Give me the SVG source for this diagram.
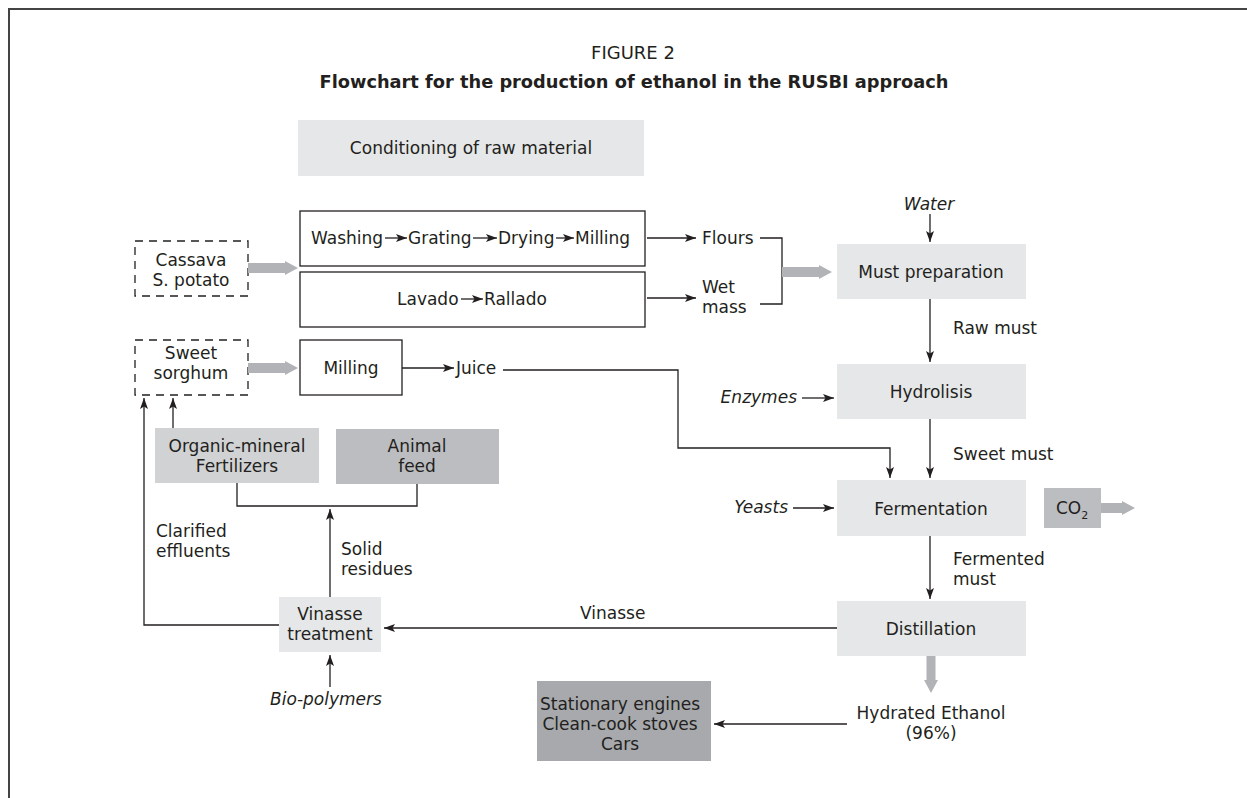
<svg xmlns="http://www.w3.org/2000/svg" width="1247" height="798" viewBox="0 0 1247 798">
<defs>
<style>
text{font-family:"DejaVu Sans","Open Sans",sans-serif;font-size:17px;fill:#231f20}
.c{text-anchor:middle}
.i{font-style:italic}
.b{font-weight:bold}
.ln{fill:none;stroke:#231f20;stroke-width:1.3}
.ar{fill:none;stroke:#231f20;stroke-width:1.3;marker-end:url(#ah)}
.dash{fill:#fff;stroke:#231f20;stroke-width:1.3;stroke-dasharray:8,6}
.box{fill:#fff;stroke:#231f20;stroke-width:1.3}
.l1{fill:#e6e7e8}
.l2{fill:#d1d2d4}
.l3{fill:#bcbdc0}
.l4{fill:#a7a9ac}
.ga{fill:#b1b3b6}
</style>
<marker id="ah" markerUnits="userSpaceOnUse" markerWidth="12" markerHeight="10" refX="11" refY="4" orient="auto">
<path d="M0,0 L11,4 L0,8 L2.5,4 Z" fill="#231f20"/>
</marker>
</defs>
<rect width="1247" height="798" fill="#fff"/>
<path d="M9,798 V9 H1247" fill="none" stroke="#444" stroke-width="2"/>
<g id="title">
<text class="c" x="633" y="59" style="font-size:18px">FIGURE 2</text>
<text class="c b" x="634" y="88" style="font-size:17.8px">Flowchart for the production of ethanol in the RUSBI approach</text>
</g>
<g id="conditioning">
<rect class="l1" x="298" y="120" width="346" height="56"/>
<text class="c" x="471" y="154">Conditioning of raw material</text>
</g>
<g id="cassava">
<rect class="dash" x="135" y="241" width="113" height="55"/>
<text class="c" x="191" y="266">Cassava</text>
<text class="c" x="191" y="286">S. potato</text>
</g>
<g id="washing">
<rect class="box" x="300" y="211" width="345" height="55"/>
<text x="311" y="244">Washing</text>
<text x="408" y="244">Grating</text>
<text x="498" y="244">Drying</text>
<text x="575" y="244">Milling</text>
</g>
<g id="lavado">
<rect class="box" x="300" y="272" width="345" height="55"/>
<text x="397" y="305">Lavado</text>
<text x="484" y="305">Rallado</text>
</g>
<g id="flours"><text x="702" y="244">Flours</text></g>
<g id="wetmass"><text x="702" y="293">Wet</text><text x="702" y="313">mass</text></g>
<g id="sorghum">
<rect class="dash" x="135" y="340" width="113" height="55"/>
<text class="c" x="191" y="359">Sweet</text>
<text class="c" x="191" y="379">sorghum</text>
</g>
<g id="milling">
<rect class="box" x="300" y="340" width="102" height="55"/>
<text class="c" x="351" y="374">Milling</text>
</g>
<g id="juice"><text x="456" y="374">Juice</text></g>
<g id="water"><text class="c i" x="929" y="210">Water</text></g>
<g id="must">
<rect class="l1" x="837" y="244" width="189" height="55"/>
<text class="c" x="931" y="278">Must preparation</text>
</g>
<g id="hydrolisis">
<rect class="l1" x="837" y="364" width="189" height="55"/>
<text class="c" x="931" y="398">Hydrolisis</text>
</g>
<g id="enzymes"><text class="i" x="797" y="403" text-anchor="end">Enzymes</text></g>
<g id="fermentation">
<rect class="l1" x="837" y="480" width="189" height="56"/>
<text class="c" x="931" y="515">Fermentation</text>
</g>
<g id="yeasts"><text class="i" x="788" y="513" text-anchor="end">Yeasts</text></g>
<g id="co2">
<rect class="l3" x="1044" y="488" width="57" height="40"/>
<text x="1056" y="514">CO<tspan dy="5" style="font-size:11px">2</tspan></text>
</g>
<g id="distillation">
<rect class="l1" x="837" y="601" width="189" height="55"/>
<text class="c" x="931" y="635">Distillation</text>
</g>
<g id="ethanol">
<text class="c" x="931" y="719">Hydrated Ethanol</text>
<text class="c" x="931" y="739">(96%)</text>
</g>
<g id="uses">
<rect class="l4" x="537" y="681" width="174" height="80"/>
<text class="c" x="620" y="710">Stationary engines</text>
<text class="c" x="620" y="730">Clean-cook stoves</text>
<text class="c" x="620" y="750">Cars</text>
</g>
<g id="fertilizers">
<rect class="l2" x="155" y="428" width="164" height="55"/>
<text class="c" x="237" y="452">Organic-mineral</text>
<text class="c" x="237" y="472">Fertilizers</text>
</g>
<g id="feed">
<rect class="l3" x="336" y="429" width="163" height="55"/>
<text class="c" x="417" y="452">Animal</text>
<text class="c" x="417" y="472">feed</text>
</g>
<g id="vinasse-treatment">
<rect class="l1" x="279" y="597" width="102" height="55"/>
<text class="c" x="330" y="620">Vinasse</text>
<text class="c" x="330" y="640">treatment</text>
</g>
<g id="biopolymers"><text class="c i" x="326" y="705">Bio-polymers</text></g>
<g id="labels">
<text x="953" y="334">Raw must</text>
<text x="953" y="460">Sweet must</text>
<text x="953" y="565">Fermented</text>
<text x="953" y="585">must</text>
<text x="580" y="619">Vinasse</text>
<text x="156" y="537">Clarified</text>
<text x="156" y="557">effluents</text>
<text x="341" y="555">Solid</text>
<text x="341" y="575">residues</text>
</g>
<g id="connectors">
<line class="ar" x1="385" y1="238" x2="407" y2="238"/>
<line class="ar" x1="473" y1="238" x2="497" y2="238"/>
<line class="ar" x1="556" y1="238" x2="574" y2="238"/>
<line class="ar" x1="461" y1="299" x2="483" y2="299"/>
<line class="ar" x1="647" y1="238" x2="696" y2="238"/>
<line class="ar" x1="647" y1="298" x2="696" y2="298"/>
<path class="ln" d="M760,238 H782 V304 H760"/>
<line class="ar" x1="930" y1="214" x2="930" y2="242"/>
<line class="ar" x1="930" y1="299" x2="930" y2="362"/>
<line class="ar" x1="930" y1="419" x2="930" y2="478"/>
<line class="ar" x1="930" y1="536" x2="930" y2="599"/>
<line class="ar" x1="802" y1="398" x2="834" y2="398"/>
<line class="ar" x1="793" y1="508" x2="834" y2="508"/>
<line class="ar" x1="402" y1="368" x2="454" y2="368"/>
<path class="ar" d="M503,370 H678 V448 H890 V478"/>
<line class="ar" x1="837" y1="628" x2="384" y2="628"/>
<line class="ar" x1="847" y1="724" x2="714" y2="724"/>
<path class="ar" d="M279,625 H144 V398"/>
<line class="ar" x1="173" y1="428" x2="173" y2="398"/>
<path class="ln" d="M237,483 V506 H417 V484"/>
<line class="ar" x1="330" y1="597" x2="330" y2="509"/>
<line class="ar" x1="330" y1="687" x2="330" y2="655"/>
<path class="ga" d="M248,263 H285 V261 L298,268 L285,275 V273 H248 Z"/>
<path class="ga" d="M248,363 H285 V361 L298,368 L285,375 V373 H248 Z"/>
<path class="ga" d="M782,267 H819 V265 L832,272 L819,279 V277 H782 Z"/>
<path class="ga" d="M1101,503 H1122 V501 L1135,508 L1122,515 V513 H1101 Z"/>
<path class="ga" d="M926.5,656 H935.5 V680 H938 L931,693 L924,680 H926.5 Z"/>
</g>
</svg>
